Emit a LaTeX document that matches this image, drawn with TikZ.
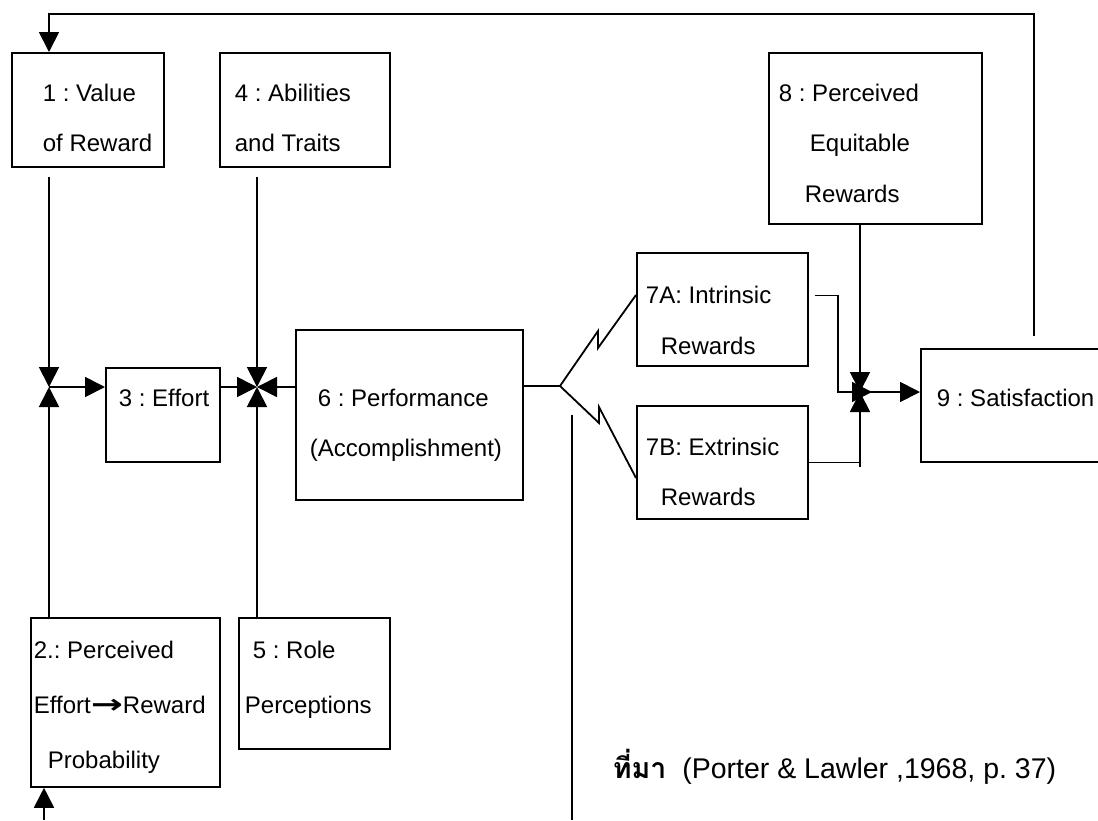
\documentclass[tikz,border=0pt]{standalone}
\usepackage{fontspec}
\setmainfont{Liberation Sans}
\newfontfamily\thaifont[Script=Thai]{Loma}
\newfontfamily\arrowfont{DejaVu Sans}
\usepackage{graphicx}
\usetikzlibrary{arrows.meta}

\begin{document}
\frenchspacing
\begin{tikzpicture}[
	x=1pt,
	y=-1pt,
	line width=1.8pt,
	box/.style={
		rectangle,
		draw=black,
		line width=1.8pt,
		anchor=north west,
		inner sep=0pt
		},
	txt/.style={
		anchor=base west,
		inner sep=0pt,
		font=\fontsize{24}{29}\selectfont
	},
	arr/.style={
		-{Triangle[length=20pt,width=20pt]}
	}
]

\clip (0,0) rectangle (1098,820);
\fill [white] (0,0) rectangle (1098,820);

% Boxes
\node [box, minimum width=152pt, minimum height=114pt] (Value) at (11,52) {};
\node [box, minimum width=170pt, minimum height=114pt] (Abil) at (219,52) {};
\node [box, minimum width=114pt, minimum height=94pt] (Effort) at (105,367) {};
\node [box, minimum width=227pt, minimum height=170pt] (Perf) at (295,329) {};
\node [box, minimum width=189pt, minimum height=169pt] (Prob) at (30,617) {};
\node [box, minimum width=151pt, minimum height=131pt] (Role) at (238,617) {};
\node [box, minimum width=171pt, minimum height=113pt] (Intr) at (636,252) {};
\node [box, minimum width=171pt, minimum height=113pt] (Extr) at (636,405) {};
\node [box, minimum width=213pt, minimum height=171pt] (Equit) at (768,52) {};
\node [box, minimum width=200pt, minimum height=113pt] (Satis) at (920,348) {};

% Texts
\node [txt] (Value 1) at (42,101) {1 : Value};
\node [txt] (Value 2) at (42,151) {of Reward};
\node [txt] (Abil 1) at (234,101) {4 : Abilities};
\node [txt] (Abil 2) at (234,151) {and Traits};
\node [txt] (Effort 1) at (118,406) {3 : Effort};
\node [txt] (Perf 1) at (317,406) {6 : Performance};
\node [txt] (Perf 2) at (309,456) {(Accomplishment)};
\node [txt] (Prob 1) at (33,658) {2.: Perceived};
\node [txt] (Prob 2) at (33,713) {Effort\scalebox{1.6}[1.1]{\arrowfont\bfseries →}Reward};
\node [txt] (Prob 3) at (47,768) {Probability};
\node [txt] (Role 1) at (252,658) {5 : Role};
\node [txt] (Role 2) at (244,713) {Perceptions};
\node [txt] (Intr 1) at (645,303) {7A: Intrinsic};
\node [txt] (Intr 2) at (660,354) {Rewards};
\node [txt] (Extr 1) at (645,455) {7B: Extrinsic};
\node [txt] (Extr 2) at (660,505) {Rewards};
\node [txt] (Equit 1) at (778,101) {8 : Perceived};
\node [txt] (Equit 2) at (809,151) {Equitable};
\node [txt] (Equit 3) at (804,202) {Rewards};
\node [txt] (Satis 1) at (936,406) {9 : Satisfaction};
\node [txt, font=\fontsize{28.5}{34}\selectfont] (Source) at (612,778) {{\thaifont\bfseries ที่มา}\ \ (Porter \& Lawler ,1968, p. 37)};

% Junctions
\coordinate (J1) at (49,387);
\coordinate (J2) at (257,387);
\coordinate (J3) at (860,392);
\coordinate (Fork) at (560,386);
\coordinate (Loop) at (1034,336);
\coordinate (Top) at (49,14);
\coordinate (In) at (44,820);
\coordinate (Cut top) at (572,415);
\coordinate (Cut bottom) at (572,820);

% Feedback
\draw [arr] (Loop) |- (Top) -- (Value.north -| Top);

% Into effort
\draw [arr] ([yshift=-9pt]J1 |- Value.south) -- (J1);
\draw [arr] (J1 |- Prob.north) -- (J1);
\draw [arr] (J1) -- (J1 -| Effort.west);
\draw [arr] (In) -- (In |- Prob.south);

% Into performance
\draw [arr] (J2 -| Effort.east) -- (J2);
\draw [arr] ([yshift=-9pt]J2 |- Abil.south) -- (J2);
\draw [arr] (J2 |- Role.north) -- (J2);
\draw [arr] (J2 -| Perf.west) -- (J2);

% Performance to rewards
\draw (Perf.east |- Fork) -- (Fork) -- ++(38,-55) -- ++(0,17) -- (Intr.west |- 0,295);
\draw (Fork) -- ++(39,37) -- ++(0,-16) -- (Extr.west |- 0,478);
\draw (Cut top) -- (Cut bottom);

% Rewards to satisfaction
\draw [arr] ([shift={(6,-14)}]Intr.east) -- ++(23,0) |- ([xshift=12pt]J3);
\draw (Extr.east) -- (J3 |- Extr.east);
\draw [arr] ([yshift=-5pt]J3 |- Extr.east) -- (J3);
\draw [arr] (J3 |- Equit.south) -- (J3);
\draw [arr] (J3) -- (J3 -| Satis.west);

\end{tikzpicture}
\end{document}
